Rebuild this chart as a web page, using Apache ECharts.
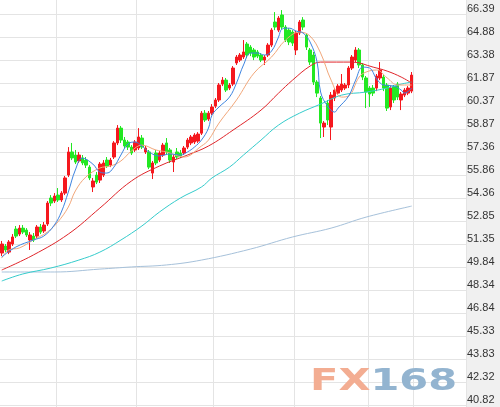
<!DOCTYPE html>
<html>
<head>
<meta charset="utf-8">
<script src="https://cdn.jsdelivr.net/npm/echarts@6/dist/echarts.min.js"></script>
<style>
html, body { margin: 0; padding: 0; background: #fff; }
#chart { width: 500px; height: 407px; }
</style>
</head>
<body>
<div id="chart"></div>
<script>
// 日K线 [open, close, low, high]
const kline = [
  [50.76, 51.35, 50.56, 51.55], [51.22, 50.96, 50.82, 51.35], [50.82, 51.48, 50.69, 51.61], [51.35, 51.81, 51.22, 52.00],
  [52.33, 51.87, 51.74, 52.53], [52.00, 52.39, 51.87, 52.59], [52.39, 52.13, 52.00, 52.59], [52.26, 51.94, 51.81, 52.39],
  [51.61, 51.94, 50.96, 52.13], [51.87, 51.61, 51.48, 52.07], [51.87, 52.46, 51.74, 52.59], [52.46, 52.13, 52.00, 52.66],
  [52.20, 52.59, 52.07, 52.79], [52.66, 54.03, 52.53, 54.16], [54.36, 54.03, 53.83, 54.55], [54.16, 54.49, 54.03, 54.68],
  [54.55, 54.23, 54.10, 55.01], [54.23, 54.68, 54.10, 54.81], [54.68, 55.67, 54.55, 55.80], [55.86, 57.37, 55.73, 57.69],
  [57.37, 56.98, 56.84, 57.96], [57.17, 56.71, 56.58, 57.50], [56.78, 57.17, 56.65, 57.37], [56.98, 56.65, 56.51, 57.17],
  [56.84, 56.51, 56.32, 57.04], [56.38, 55.67, 55.53, 56.51], [55.08, 55.47, 54.75, 55.67], [55.86, 55.40, 55.27, 56.06],
  [55.53, 56.58, 55.34, 56.71], [55.86, 56.65, 55.73, 56.84], [56.84, 56.45, 56.32, 57.04], [56.51, 56.84, 56.38, 56.98],
  [57.04, 57.96, 56.91, 58.08], [57.96, 58.93, 57.82, 59.13], [58.93, 58.15, 57.96, 59.07], [58.15, 57.76, 57.63, 58.35],
  [58.02, 57.69, 57.50, 58.15], [57.69, 57.30, 57.17, 57.82], [57.50, 58.02, 57.37, 58.15], [57.63, 58.35, 57.50, 58.93],
  [58.28, 57.69, 57.56, 58.48], [57.37, 57.63, 57.24, 57.76], [57.37, 56.38, 56.25, 57.50], [55.99, 56.65, 55.60, 56.78],
  [57.30, 56.65, 56.51, 57.50], [56.84, 57.30, 56.71, 57.43], [57.17, 57.82, 57.04, 57.96], [57.96, 57.37, 57.17, 58.28],
  [57.50, 56.84, 56.65, 57.63], [56.71, 57.04, 56.06, 57.17], [57.37, 57.04, 56.91, 57.63], [57.30, 57.11, 56.98, 57.50],
  [57.30, 57.63, 57.17, 57.76], [57.69, 58.15, 57.56, 58.28], [57.96, 58.35, 57.82, 58.48], [58.02, 58.48, 57.89, 58.60],
  [58.08, 58.54, 57.96, 58.67], [58.60, 59.91, 58.48, 60.05], [59.91, 59.46, 59.33, 60.11], [59.52, 59.91, 59.39, 60.05],
  [59.91, 60.31, 59.78, 60.50], [60.37, 60.77, 60.24, 60.90], [60.77, 61.75, 60.64, 61.88], [61.81, 62.07, 61.68, 62.27],
  [62.07, 61.42, 61.29, 62.21], [61.55, 61.75, 61.42, 61.88], [61.81, 62.86, 61.68, 62.99], [63.19, 63.58, 63.06, 63.71],
  [63.38, 63.71, 63.25, 63.84], [63.58, 63.91, 63.45, 64.69], [64.43, 63.71, 63.51, 64.56], [64.23, 63.84, 63.64, 64.36],
  [64.04, 63.58, 63.38, 64.17], [63.91, 63.64, 63.51, 64.04], [63.71, 63.38, 63.25, 63.84], [63.38, 63.58, 63.06, 63.71],
  [63.71, 64.36, 63.58, 64.49], [64.36, 65.34, 64.23, 65.47], [65.87, 65.54, 65.34, 66.52], [65.34, 66.13, 65.21, 66.26],
  [66.33, 65.54, 65.41, 66.65], [65.54, 64.69, 64.56, 65.67], [65.34, 64.56, 64.36, 65.47], [65.21, 64.49, 64.30, 65.34],
  [64.04, 65.15, 63.71, 65.28], [65.15, 65.87, 65.02, 66.00], [66.00, 65.54, 65.34, 66.19], [65.02, 64.23, 64.04, 65.15],
  [64.04, 63.25, 63.06, 64.17], [63.71, 61.94, 61.75, 63.91], [61.94, 61.22, 60.96, 62.07], [60.90, 59.26, 58.28, 61.03],
  [59.00, 59.26, 58.35, 59.39], [60.57, 59.46, 59.13, 60.77], [59.00, 61.09, 58.15, 61.29], [60.90, 61.42, 60.70, 61.55],
  [61.22, 61.68, 61.09, 61.81], [61.42, 61.81, 61.29, 62.47], [61.55, 61.75, 61.42, 61.88], [61.75, 62.86, 61.55, 62.99],
  [62.86, 63.58, 62.73, 63.71], [63.38, 64.04, 63.25, 64.23], [64.04, 63.06, 62.86, 64.17], [63.06, 62.27, 62.07, 63.19],
  [62.21, 61.29, 60.24, 62.34], [61.55, 61.16, 60.31, 61.68], [61.55, 61.22, 61.03, 61.75], [61.55, 62.34, 61.35, 62.47],
  [62.21, 62.73, 62.07, 63.25], [62.27, 61.55, 61.35, 62.40], [61.75, 60.24, 60.05, 61.88], [60.31, 61.55, 60.11, 61.68],
  [61.62, 60.77, 60.57, 61.75], [61.81, 60.96, 60.77, 61.94], [60.77, 61.16, 60.11, 61.29], [61.09, 61.42, 60.96, 61.55],
  [61.22, 61.55, 61.09, 61.68], [61.35, 62.40, 61.22, 62.60]
];

// 均线 [K线序号, 值]
const ma5 = [
  [0, 50.50], [4, 51.15], [9, 51.61], [12, 51.87], [15, 52.59], [17, 53.44], [19, 54.75], [21, 56.19], [23, 56.97],
  [26, 56.58], [28, 56.06], [30, 55.99], [32, 56.38], [34, 57.17], [36, 57.89], [38, 58.02], [40, 57.76], [42, 57.37],
  [45, 57.11], [48, 57.24], [51, 57.17], [53, 57.37], [55, 57.69], [57, 58.15], [59, 58.93], [60, 59.78], [62, 60.31],
  [65, 60.96], [67, 61.88], [69, 63.06], [71, 63.84], [73, 63.84], [75, 63.71], [77, 63.97], [79, 64.89], [80, 65.41],
  [82, 65.47], [84, 65.28], [86, 65.15], [88, 64.56], [90, 63.25], [91, 61.29], [93, 60.37], [95, 59.98], [96, 60.24],
  [99, 61.03], [101, 62.07], [103, 62.92], [105, 62.86], [107, 62.14], [109, 61.75], [112, 61.68], [114, 61.42],
  [115, 61.22], [117, 61.55]
];
const ma10 = [
  [0, 50.43], [2, 50.96], [5, 51.09], [9, 51.61], [13, 52.13], [16, 52.79], [19, 53.77], [21, 54.82], [24, 55.73],
  [28, 56.32], [31, 56.45], [34, 56.78], [37, 57.43], [40, 57.82], [44, 57.50], [47, 57.37], [52, 57.04], [57, 57.76],
  [59, 58.15], [62, 59.26], [67, 60.77], [72, 62.53], [77, 63.58], [81, 64.69], [85, 65.21], [88, 64.95], [91, 63.84],
  [94, 62.07], [97, 60.96], [99, 61.03], [102, 62.27], [104, 62.60], [107, 62.73], [110, 62.21], [113, 61.75], [117, 61.75]
];
const ma20 = [
  [0, 49.65], [9, 50.63], [19, 52.00], [28, 53.70], [37, 55.47], [45, 56.45], [53, 57.17], [59, 57.76], [66, 58.80],
  [74, 60.11], [79, 61.22], [83, 62.07], [88, 62.99], [91, 63.25], [100, 63.25], [106, 62.92], [110, 62.66],
  [114, 62.27], [117, 61.88]
];
const ma60 = [
  [0, 48.93], [6, 49.39], [14, 49.78], [22, 50.30], [28, 50.82], [34, 51.61], [40, 52.53], [45, 53.44], [51, 54.36],
  [57, 55.08], [60, 55.67], [65, 56.38], [69, 57.17], [74, 58.15], [79, 59.13], [85, 59.91], [91, 60.50], [97, 61.09],
  [104, 61.29], [110, 61.55], [114, 61.81], [117, 61.94]
];
const ma250 = [
  [0, 49.52], [15, 49.52], [28, 49.71], [37, 49.85], [47, 49.98], [57, 50.30], [71, 51.02], [83, 51.81], [94, 52.39],
  [104, 53.11], [117, 53.83]
];

// 纵轴刻度
const yTicks = [40.82, 42.32, 43.83, 45.33, 46.84, 48.34, 49.84, 51.35, 52.85, 54.36, 55.86, 57.36, 58.87, 60.37,
  61.87, 63.38, 64.88, 66.39];
// 月份分隔线所在的K线序号
const monthStarts = [16, 39, 61, 84, 105, 118];
// 横轴共 133 个交易日位置(右侧留空)
const categories = [];
for (let i = 0; i < 133; i++) categories.push(String(i + 1));

const chart = echarts.init(document.getElementById('chart'));

const maLine = (name, data, color) => ({
  name: name,
  type: 'line',
  data: data,
  smooth: 0.4,
  showSymbol: false,
  silent: true,
  lineStyle: { color: color, width: 1 },
  clip: false
});

chart.setOption({
  animation: false,
  backgroundColor: '#fff',
  grid: { left: 0, right: 34, top: 0, bottom: 0 },
  xAxis: {
    type: 'category',
    data: categories,
    boundaryGap: true,
    axisLine: { show: false },
    axisTick: { show: false },
    axisLabel: { show: false },
    splitLine: {
      show: true,
      interval: (index) => monthStarts.indexOf(index) >= 0,
      lineStyle: { color: '#e4e4e4', width: 1 }
    }
  },
  yAxis: {
    type: 'value',
    position: 'right',
    min: 40.69,
    max: 67.31,
    axisLine: { show: false },
    axisTick: { show: false, customValues: yTicks },
    axisLabel: {
      customValues: yTicks,
      formatter: (v) => v.toFixed(2),
      align: 'left',
      verticalAlign: 'bottom',
      margin: 1,
      color: '#333',
      fontSize: 11,
      fontFamily: '"Liberation Sans", Arial, sans-serif'
    },
    splitLine: { show: true, lineStyle: { color: '#e4e4e4', width: 1 } }
  },
  graphic: [
    {
      type: 'rect', right: 0, top: 0, z: -1,
      shape: { width: 34, height: 407 },
      style: { fill: '#f0f0f0' }
    },
    {
      type: 'text', x: 310, y: 366, scaleX: 1.34, z: 10,
      style: {
        text: '{a|FX}{b|168}',
        font: 'bold 31px "DejaVu Sans"',
        verticalAlign: 'top',
        rich: {
          a: { fill: '#f3ad92', font: 'bold 31px "DejaVu Sans"' },
          b: { fill: '#93b4d0', font: 'bold 31px "DejaVu Sans"' }
        }
      }
    }
  ],
  series: [
    {
      name: '日K',
      type: 'candlestick',
      data: kline,
      barWidth: 3,
      clip: false,
      itemStyle: {
        color: '#f5181e',
        color0: '#22e822',
        borderColor: '#f5181e',
        borderColor0: '#22e822',
        borderWidth: 1
      }
    },
    maLine('MA250', ma250, '#a6c1da'),
    maLine('MA60', ma60, '#35cccc'),
    maLine('MA20', ma20, '#e0252a'),
    maLine('MA10', ma10, '#f2a77a'),
    maLine('MA5', ma5, '#3d84e0')
  ]
});
</script>
</body>
</html>
